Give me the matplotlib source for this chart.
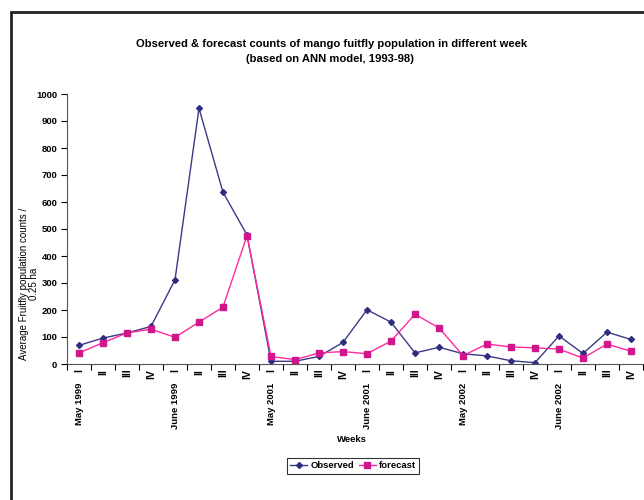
import matplotlib.pyplot as plt
from matplotlib.patches import Rectangle
import numpy as np

plt.rcParams['font.family'] = ['Liberation Sans', 'DejaVu Sans']

# Semanas (I-IV) para cada mes
weeks = ['I', 'II', 'III', 'IV'] * 6
months = ['May 1999', 'June 1999', 'May 2001', 'June 2001', 'May 2002', 'June 2002']

# Conteos observados y pronosticados
observed = [69, 96, 115, 139, 312, 947, 636, 478,
            10, 10, 28, 80, 201, 155, 41, 62,
            38, 30, 12, 5, 104, 39, 118, 91]
forecast = [41, 79, 115, 129, 99, 155, 211, 475,
            28, 16, 41, 46, 38, 85, 184, 134,
            31, 74, 63, 60, 55, 22, 74, 47]

x = np.arange(len(weeks))

fig = plt.figure(figsize=(6.44, 5.0), dpi=100)
ax = fig.add_axes([67 / 644, 136 / 500, 576 / 644, 270 / 500])

ax.plot(x, observed, '-D', color='#3a3a85', markersize=3, linewidth=1,
        markerfacecolor='#2e2e80', markeredgecolor='#2e2e80', label='Observed')
ax.plot(x, forecast, '-s', color='#ff2aa0', markersize=4.5, linewidth=1,
        markerfacecolor='#d0168c', markeredgecolor='#d0168c', label='forecast')

ax.set_xlim(-0.5, len(weeks) - 0.5)
ax.set_ylim(0, 1000)
ax.set_yticks(range(0, 1001, 100))
ax.set_yticklabels([str(v) for v in range(0, 1001, 100)], fontsize=6.8, fontweight='bold')
ax.tick_params(axis='y', direction='out', length=4, width=0.8, pad=3)

# Marcas entre categorias
ax.set_xticks(np.arange(-0.5, len(weeks), 1))
ax.set_xticklabels([])
ax.tick_params(axis='x', direction='out', length=4, width=0.8)
for i, w in enumerate(weeks):
    ax.text(i, -0.018, w, transform=ax.get_xaxis_transform(), rotation=90,
            ha='center', va='top', fontsize=7.5, fontweight='bold')
for j, m in enumerate(months):
    ax.text(j * 4, -0.07, m, transform=ax.get_xaxis_transform(), rotation=90,
            ha='center', va='top', fontsize=6.8, fontweight='bold')

for s in ['top', 'right']:
    ax.spines[s].set_visible(False)
for s in ['left', 'bottom']:
    ax.spines[s].set_linewidth(0.8)
    ax.spines[s].set_color('#555555')

fig.text(332 / 644, 1 - 44 / 500,
         'Observed & forecast counts of mango fuitfly population in different week',
         ha='center', va='center', fontsize=8.1, fontweight='bold')
fig.text(330 / 644, 1 - 59 / 500, '(based on ANN model, 1993-98)',
         ha='center', va='center', fontsize=8.1, fontweight='bold')
fig.text(29 / 644, 1 - 284 / 500, 'Average Fruitfly population counts /\n0.25 ha',
         rotation=90, ha='center', va='center', fontsize=7.0, linespacing=1.0)
fig.text(352 / 644, 1 - 440 / 500, 'Weeks', ha='center', va='center',
         fontsize=6.8, fontweight='bold')

leg = fig.legend(loc='center', bbox_to_anchor=(353 / 644, 1 - 466 / 500), ncol=2,
                 frameon=True, fancybox=False, fontsize=6.8, handlelength=1.8,
                 columnspacing=0.5, handletextpad=0.3, borderpad=0.4)
leg.get_frame().set_edgecolor('black')
leg.get_frame().set_linewidth(0.8)
for t in leg.get_texts():
    t.set_fontweight('bold')

# Marco exterior
fig.patches.append(Rectangle((11 / 644, -0.1), 1.2, 1 - 12 / 500 + 0.1,
                             transform=fig.transFigure, fill=False,
                             edgecolor='#222222', linewidth=2))

fig.savefig('out.png', dpi=100)
